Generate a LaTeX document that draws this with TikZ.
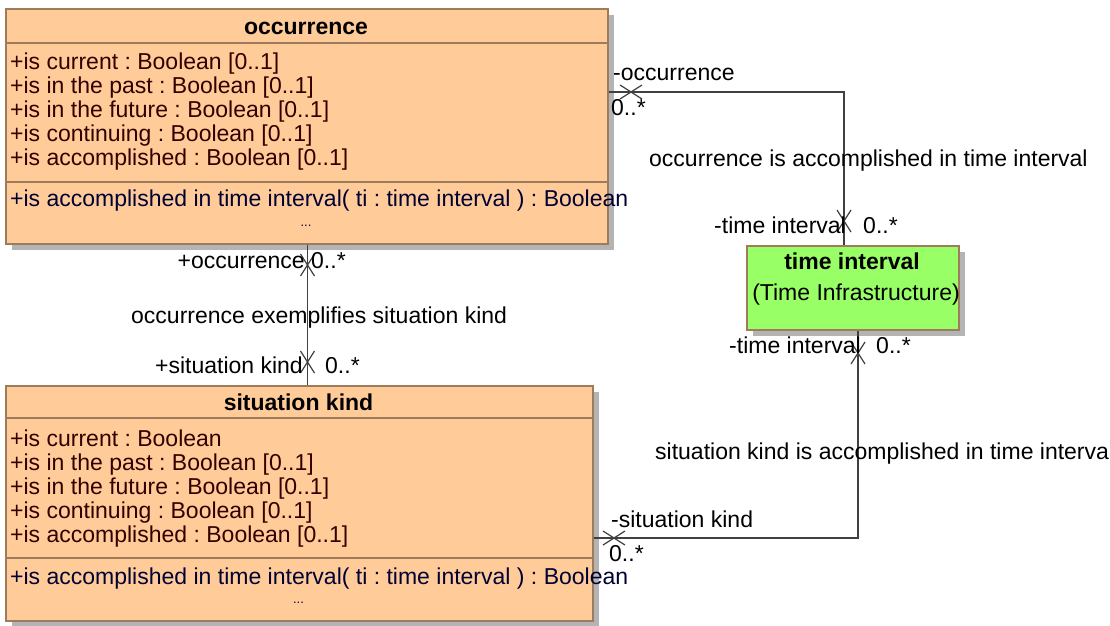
\documentclass[tikz,border=0pt]{standalone}
\usepackage{fontspec}
\setmainfont{Liberation Sans}
\usetikzlibrary{calc,shadows}
\definecolor{orangefill}{HTML}{FFCC99}
\definecolor{greenfill}{HTML}{99FF66}
\definecolor{boxborder}{HTML}{9E7B5A}
\definecolor{shadowgray}{HTML}{B4B4B4}
\definecolor{attrcol}{HTML}{330000}
\definecolor{opcol}{HTML}{000033}
\definecolor{linecol}{HTML}{404040}
\newcommand{\basefont}{\fontsize{23}{24}\selectfont}
\tikzset{
  classbox/.style={draw=boxborder, line width=1.5pt, fill=orangefill, inner sep=0pt, anchor=north west,
    drop shadow={shadow xshift=6pt, shadow yshift=-6pt, fill=shadowgray, opacity=1}},
  greenbox/.style={classbox, fill=greenfill},
  divider/.style={draw=boxborder, line width=1.5pt},
  attr/.style={anchor=base west, inner sep=0pt, text=attrcol},
  oper/.style={anchor=base west, inner sep=0pt, text=opcol},
  lbl/.style={anchor=base west, inner sep=0pt},
  lblr/.style={anchor=base east, inner sep=0pt},
  titletext/.style={anchor=base, inner sep=0pt, font={\basefont\bfseries}},
  dots/.style={anchor=base, inner sep=0pt, text=opcol, font=\fontsize{13}{14}\selectfont},
  conn/.style={draw=linecol, line width=1.2pt},
  xh/.pic={\draw[linecol, line width=1.2pt] (-11,-7) -- (11,7) (-11,7) -- (11,-7);},
  xv/.pic={\draw[linecol, line width=1.2pt] (-7,-11) -- (7,11) (-7,11) -- (7,-11);},
}
\begin{document}
\frenchspacing
\begin{tikzpicture}[x=1pt, y=-1pt, font=\basefont]
\useasboundingbox (0,0) rectangle (1110,625);
\fill[white] (0,0) rectangle (1110,625);

% occurrence class
\node[classbox, minimum width=602pt, minimum height=235pt] (occ) at (5,8) {};
\draw[divider] ($(occ.north west)+(0,35)$) -- ($(occ.north east)+(0,35)$);
\draw[divider] ($(occ.north west)+(0,174)$) -- ($(occ.north east)+(0,174)$);
\node[titletext] (occt) at (306,34) {occurrence};
\node[attr] (oa1) at (10,69) {+is current : Boolean [0..1]};
\node[attr] (oa2) at (10,93) {+is in the past : Boolean [0..1]};
\node[attr] (oa3) at (10,117) {+is in the future : Boolean [0..1]};
\node[attr] (oa4) at (10,141) {+is continuing : Boolean [0..1]};
\node[attr] (oa5) at (10,165) {+is accomplished : Boolean [0..1]};
\node[oper] (oo1) at (10,206) {+is accomplished in time interval( ti : time interval ) : Boolean};
\node[dots] (oo2) at (306,226) {...};

% situation kind class
\node[classbox, minimum width=587pt, minimum height=235pt] (sit) at (5,385) {};
\draw[divider] ($(sit.north west)+(0,33)$) -- ($(sit.north east)+(0,33)$);
\draw[divider] ($(sit.north west)+(0,173)$) -- ($(sit.north east)+(0,173)$);
\node[titletext] (sitt) at (298.5,410) {situation kind};
\node[attr] (sa1) at (10,446) {+is current : Boolean};
\node[attr] (sa2) at (10,470) {+is in the past : Boolean [0..1]};
\node[attr] (sa3) at (10,494) {+is in the future : Boolean [0..1]};
\node[attr] (sa4) at (10,518) {+is continuing : Boolean [0..1]};
\node[attr] (sa5) at (10,542) {+is accomplished : Boolean [0..1]};
\node[oper] (so1) at (10,584) {+is accomplished in time interval( ti : time interval ) : Boolean};
\node[dots] (so2) at (298.5,603) {...};

% time interval class
\node[greenbox, minimum width=212pt, minimum height=84pt] (ti) at (746,245) {};
\node[titletext] (tit) at (852,269) {time interval};
\node[anchor=base, inner sep=0pt] (tis) at (856,300) {(Time Infrastructure)};

% connectors
\draw[conn] (occ.east |- 0,92) -| (ti.north -| 844,0);
\draw[conn] (occ.south -| 307.5,0) -- (sit.north -| 307.5,0);
\draw[conn] (sit.east |- 0,538) -| (ti.south -| 858,0);

\pic at (631,92) {xh};
\pic at (844,221) {xv};
\pic at (307.5,265) {xv};
\pic at (307.5,362) {xv};
\pic at (614,538) {xh};
\pic at (858,353) {xv};

% labels
\node[lbl] (l1) at (613,80) {-occurrence};
\node[lbl] (l2) at (611,115) {0..*};
\node[lbl] (l3) at (649,166) {occurrence is accomplished in time interval};
\node[lbl] (l4) at (714,233) {-time interval};
\node[lbl] (l5) at (863,233) {0..*};

\node[lblr] (l6) at (305,268) {+occurrence};
\node[lbl] (l7) at (311,268) {0..*};
\node[lbl] (l8) at (131,323) {occurrence exemplifies situation kind};
\node[lblr] (l9) at (303,373) {+situation kind};
\node[lbl] (l10) at (325,373) {0..*};

\node[lbl] (l11) at (729,353) {-time interval};
\node[lbl] (l12) at (876,353) {0..*};
\node[lbl] (l13) at (655,459) {situation kind is accomplished in time interval};
\node[lbl] (l14) at (611,527) {-situation kind};
\node[lbl] (l15) at (609,561) {0..*};
\end{tikzpicture}
\end{document}
